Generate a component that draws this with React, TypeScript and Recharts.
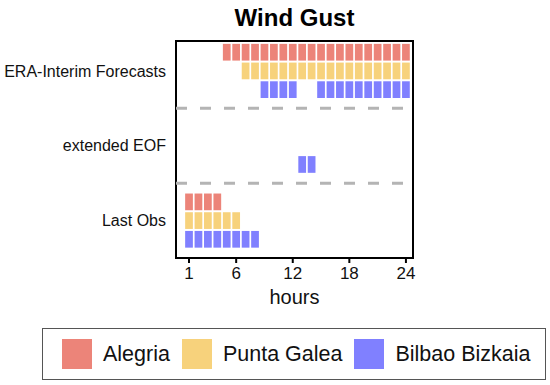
import { ScatterChart, Scatter, XAxis, YAxis, ReferenceLine, ReferenceArea } from "recharts";

const stations = ["Alegria", "Punta Galea", "Bilbao Bizkaia"];
const stationColors = ["#ec8479", "#f7d27c", "#8080ff"];
const groups = ["ERA-Interim Forecasts", "extended EOF", "Last Obs"];
const groupRows = [10, 6, 2];
const separators = [8, 4];
const hourTicks = [1, 6, 12, 18, 24];

// hours with a gust signal, per group, per station
const eraAlegria = [5, 6, 7, 8, 9, 10, 11, 12, 13, 14, 15, 16, 17, 18, 19, 20, 21, 22, 23, 24];
const eraPunta = [7, 8, 9, 10, 11, 12, 13, 14, 15, 16, 17, 18, 19, 20, 21, 22, 23, 24];
const eraBilbao = [9, 10, 11, 12, 15, 16, 17, 18, 19, 20, 21, 22, 23, 24];
const eofAlegria: number[] = [];
const eofPunta: number[] = [];
const eofBilbao = [13, 14];
const obsAlegria = [1, 2, 3, 4];
const obsPunta = [1, 2, 3, 4, 5, 6];
const obsBilbao = [1, 2, 3, 4, 5, 6, 7, 8];

const hoursByGroup = [
  [eraAlegria, eraPunta, eraBilbao],
  [eofAlegria, eofPunta, eofBilbao],
  [obsAlegria, obsPunta, obsBilbao],
];

const W = 550;
const H = 385;
const margin = { top: 41, right: 137, bottom: 127, left: 0 };
const yAxisWidth = 176;
const xAxisHeight = 30;
const xDomain = [-0.38, 24.75];
const yDomain = [0, 11.6];

const plotW = W - margin.left - margin.right - yAxisWidth;
const plotH = H - margin.top - margin.bottom;
const pxPerHour = plotW / (xDomain[1] - xDomain[0]);
const pxPerRow = plotH / (yDomain[1] - yDomain[0]);
const boxW = pxPerHour - 1.7;
const boxH = pxPerRow - 2;

const seriesData = stations.map((_, s) =>
  hoursByGroup.flatMap((g, gi) => g[s].map((h) => ({ hour: h, row: groupRows[gi] + 1 - s })))
);

const Box = (color: string) => (props: any) => (
  <rect x={props.cx - boxW / 2} y={props.cy - boxH / 2} width={boxW} height={boxH} fill={color} />
);

const font = "Liberation Sans, Arial, sans-serif";

function LegendBox() {
  return (
    <div
      style={{
        position: "absolute",
        left: 42,
        top: 328,
        width: 504,
        height: 52,
        border: "1.5px solid #555",
        boxSizing: "border-box",
        display: "flex",
        alignItems: "center",
        fontFamily: font,
        fontSize: 21.5,
        color: "#111",
      }}
    >
      {stations.map((name, i) => (
        <div key={name} style={{ display: "flex", alignItems: "center", marginLeft: i === 0 ? 19 : 12 }}>
          <span style={{ width: 30, height: 30, background: stationColors[i], display: "inline-block", marginRight: 11 }} />
          <span>{name}</span>
        </div>
      ))}
    </div>
  );
}

export default function App() {
  return (
    <div style={{ position: "absolute", left: 0, top: 0, width: W, height: H }}>
      <div
        style={{
          position: "absolute",
          left: 176,
          width: 237,
          top: 4,
          textAlign: "center",
          fontFamily: font,
          fontWeight: "bold",
          fontSize: 24,
        }}
      >
        Wind Gust
      </div>
      <ScatterChart width={W} height={H} margin={{ ...margin, bottom: margin.bottom - xAxisHeight }}>
        <XAxis
          type="number"
          dataKey="hour"
          domain={xDomain}
          ticks={hourTicks}
          allowDataOverflow
          height={xAxisHeight}
          tickSize={5}
          tickMargin={4}
          tickLine={{ stroke: "#000", strokeWidth: 2 }}
          axisLine={{ stroke: "#000", strokeWidth: 2 }}
          tick={{ fill: "#111", fontSize: 17, fontFamily: font }}
          label={{ value: "hours", position: "insideBottom", offset: -16, fill: "#111", fontSize: 20, fontFamily: font }}
        />
        <YAxis
          type="number"
          dataKey="row"
          domain={yDomain}
          ticks={groupRows}
          allowDataOverflow
          width={yAxisWidth}
          tickLine={false}
          axisLine={false}
          tickSize={0}
          tickMargin={10}
          tickFormatter={(v: number) => groups[groupRows.indexOf(v)]}
          tick={{ fill: "#111", fontSize: 16, fontFamily: font }}
        />
        {separators.map((y) => (
          <ReferenceLine key={y} y={y} stroke="#b4b4b4" strokeWidth={3} strokeDasharray="11 13" />
        ))}
        {stations.map((name, i) => (
          <Scatter key={name} name={name} data={seriesData[i]} fill={stationColors[i]} shape={Box(stationColors[i])} isAnimationActive={false} />
        ))}
        <ReferenceArea x1={xDomain[0]} x2={xDomain[1]} y1={yDomain[0]} y2={yDomain[1]} fill="none" stroke="#000" strokeWidth={2} ifOverflow="visible" />
      </ScatterChart>
      <LegendBox />
    </div>
  );
}
